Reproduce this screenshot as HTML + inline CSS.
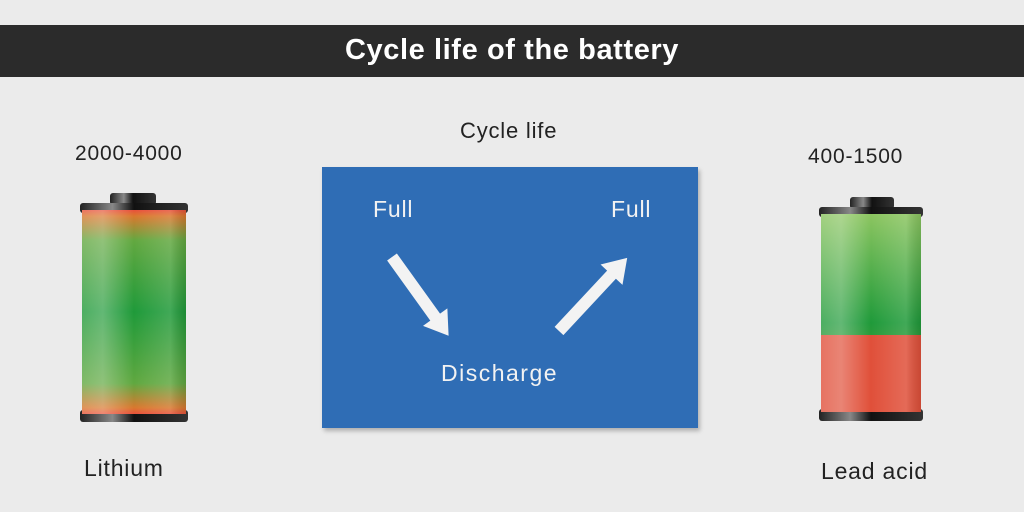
<!DOCTYPE html>
<html><head><meta charset="utf-8"><style>
html,body{margin:0;padding:0}
body{width:1024px;height:512px;background:#ebebeb;position:relative;overflow:hidden;font-family:"Liberation Sans",sans-serif;color:#222}
.t{position:absolute;white-space:nowrap;letter-spacing:0.8px}
.bar{position:absolute;left:0;top:25px;width:1024px;height:52px;background:#2b2b2b;color:#fff;font-weight:bold;font-size:29px;text-align:center;line-height:50px;letter-spacing:0.6px}
.blue{position:absolute;left:322px;top:167px;width:376px;height:261px;background:#2f6db5;box-shadow:2px 3px 4px rgba(0,0,0,.25)}
.w{color:#f2f2f2;font-size:23px}
</style></head><body>
<div class="bar">Cycle life of the battery</div>
<div class="t" style="left:460px;top:118px;font-size:22px">Cycle life</div>
<div class="t" style="left:75px;top:142px;font-size:21px">2000-4000</div>
<div class="t" style="left:808px;top:145px;font-size:21px">400-1500</div>
<div class="t" style="left:84px;top:455px;font-size:23px">Lithium</div>
<div class="t" style="left:821px;top:458px;font-size:23px">Lead acid</div>
<div class="blue"></div>
<div class="t w" style="left:373px;top:196px">Full</div>
<div class="t w" style="left:611px;top:196px">Full</div>
<div class="t w" style="left:441px;top:360px;letter-spacing:1.5px">Discharge</div>
<svg width="1024" height="512" style="position:absolute;left:0;top:0">
<defs>
<linearGradient id="g1" x1="0" x2="0" y1="0" y2="1">
<stop offset="0" stop-color="#e8503a"/><stop offset="0.03" stop-color="#d9782e"/><stop offset="0.15" stop-color="#62a840"/><stop offset="0.5" stop-color="#1f9a3a"/><stop offset="0.85" stop-color="#60a840"/><stop offset="0.97" stop-color="#d9782e"/><stop offset="1" stop-color="#e8503a"/>
</linearGradient>
<linearGradient id="sh" x1="0" x2="1" y1="0" y2="0">
<stop offset="0" stop-color="#fff" stop-opacity="0.2"/><stop offset="0.2" stop-color="#fff" stop-opacity="0.3"/><stop offset="0.5" stop-color="#fff" stop-opacity="0"/><stop offset="0.85" stop-color="#fff" stop-opacity="0.15"/><stop offset="1" stop-color="#000" stop-opacity="0.1"/>
</linearGradient>
<linearGradient id="g2" x1="0" x2="0" y1="0" y2="1">
<stop offset="0" stop-color="#8cc560"/><stop offset="0.9" stop-color="#1f9a3a"/><stop offset="1" stop-color="#2a9a3a"/>
</linearGradient>
<linearGradient id="cap" x1="0" x2="1">
<stop offset="0" stop-color="#222"/><stop offset="0.3" stop-color="#888"/><stop offset="0.5" stop-color="#111"/><stop offset="1" stop-color="#333"/>
</linearGradient>
</defs>
<rect x="110" y="193" width="46" height="12" rx="3" fill="url(#cap)"/>
<rect x="80" y="203" width="108" height="10" rx="3" fill="url(#cap)"/>
<rect x="80" y="410" width="108" height="12" rx="3" fill="url(#cap)"/>
<rect x="82" y="210" width="104" height="204" fill="url(#g1)"/>
<rect x="82" y="210" width="104" height="204" fill="url(#sh)"/>
<rect x="850" y="197" width="44" height="12" rx="3" fill="url(#cap)"/>
<rect x="819" y="207" width="104" height="10" rx="3" fill="url(#cap)"/>
<rect x="819" y="409" width="104" height="12" rx="3" fill="url(#cap)"/>
<rect x="821" y="214" width="100" height="121" fill="url(#g2)"/>
<rect x="821" y="335" width="100" height="77" fill="#e0503a"/>
<rect x="821" y="214" width="100" height="198" fill="url(#sh)"/>
<g transform="translate(392,257) rotate(54.3)" fill="#f3f3f3">
<polygon points="0,-6 74,-6 74,-15 97,0 74,15 74,6 0,6"/>
</g>
<g transform="translate(559,331) rotate(-47)" fill="#f3f3f3">
<polygon points="0,-6 77,-6 77,-15 100,0 77,15 77,6 0,6"/>
</g>
</svg>
</body></html>
